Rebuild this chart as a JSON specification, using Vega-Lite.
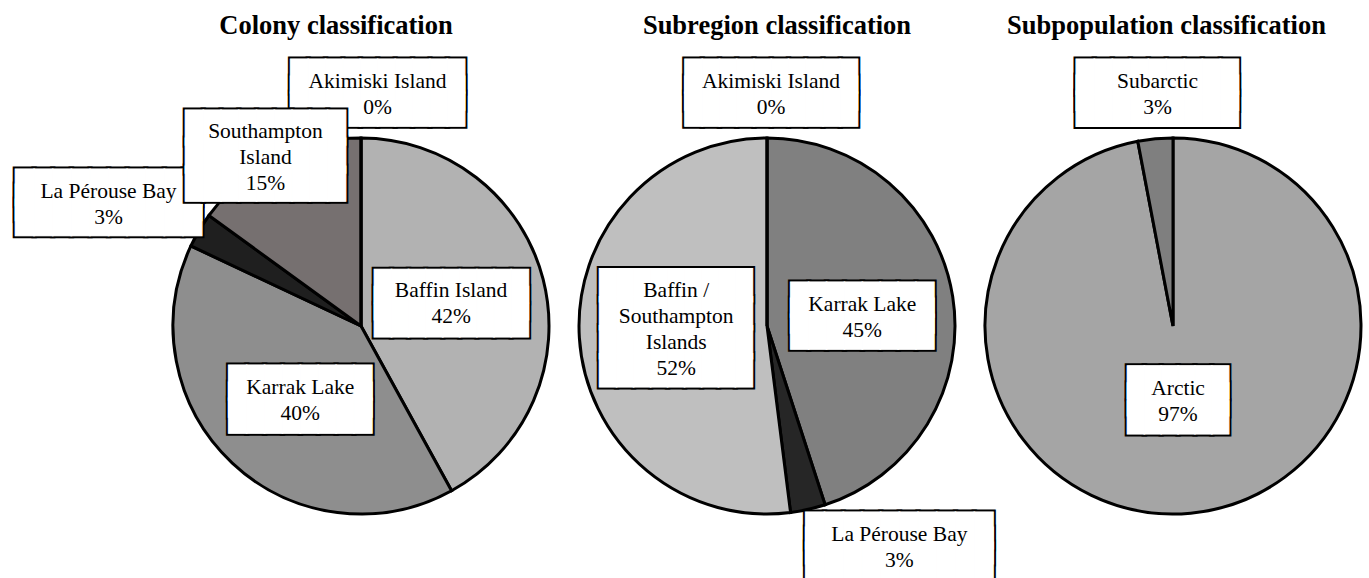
{
"$schema": "https://vega.github.io/schema/vega-lite/v6.json",
"padding": {"left": 15, "top": 12, "right": 0, "bottom": 0},
"background": "white",
"bounds": "flush",
"spacing": 0,
"data": {"values": [
 {"panel": "colony", "region": "Baffin Island", "value": 42, "idx": 1, "label": "Baffin Island\n42%"},
 {"panel": "colony", "region": "Karrak Lake", "value": 40, "idx": 2, "label": "Karrak Lake\n40%"},
 {"panel": "colony", "region": "La Pérouse Bay", "value": 3, "idx": 3, "label": "La Pérouse Bay\n3%"},
 {"panel": "colony", "region": "Southampton Island", "value": 15, "idx": 4, "label": "Southampton\nIsland\n15%"},
 {"panel": "colony", "region": "Akimiski Island", "value": 0, "idx": 5, "label": "Akimiski Island\n0%"},
 {"panel": "subregion", "region": "Karrak Lake", "value": 45, "idx": 1, "label": "Karrak Lake\n45%"},
 {"panel": "subregion", "region": "La Pérouse Bay", "value": 3, "idx": 2, "label": "La Pérouse Bay\n3%"},
 {"panel": "subregion", "region": "Baffin / Southampton Islands", "value": 52, "idx": 3, "label": "Baffin /\nSouthampton\nIslands\n52%"},
 {"panel": "subregion", "region": "Akimiski Island", "value": 0, "idx": 4, "label": "Akimiski Island\n0%"},
 {"panel": "subpopulation", "region": "Arctic", "value": 97, "idx": 1, "label": "Arctic\n97%"},
 {"panel": "subpopulation", "region": "Subarctic", "value": 3, "idx": 2, "label": "Subarctic\n3%"}
]},
"resolve": {"scale": {"color": "independent", "theta": "independent"}},
"config": {
 "view": {"stroke": null},
 "title": {"font": "Liberation Serif", "fontSize": 26.5, "fontWeight": "bold", "color": "black", "frame": "group", "anchor": "middle", "baseline": "alphabetic"}
},
"hconcat": [
{
 "title": {"text": "Colony classification", "dx": -25, "offset": -3.5},
 "width": 406, "height": 376,
 "transform": [{"filter": "datum.panel === 'colony'"}],
 "layer": [
  {"mark": {"type": "arc", "outerRadius": 188, "stroke": "black", "strokeWidth": 3},
   "encoding": {"theta": {"field": "value", "type": "quantitative", "stack": true}, "order": {"field": "idx", "type": "quantitative"},
    "color": {"field": "region", "type": "nominal", "legend": null, "scale": {"domain": ["Baffin Island", "Karrak Lake", "La Pérouse Bay", "Southampton Island", "Akimiski Island"], "range": ["#b2b2b2", "#8e8e8e", "#1f1f1f", "#767070", "#ffffff"]}}}},

  {"mark": {"type": "text", "font": "DejaVu Sans Mono", "fontSize": 28.4, "lineHeight": 17, "radius": 93, "dx": 0, "dy": -16.3, "fill": "black", "stroke": "black", "strokeWidth": 5},
   "encoding": {"theta": {"field": "value", "type": "quantitative", "stack": true}, "order": {"field": "idx", "type": "quantitative"}, "detail": {"field": "region"},
    "text": {"condition": {"test": "datum.region === 'Baffin Island'", "value": ["█████████", "█████████", "█████████"]}, "value": ""}}},
  {"mark": {"type": "text", "font": "DejaVu Sans Mono", "fontSize": 28.4, "lineHeight": 17, "radius": 93, "dx": 0, "dy": -16.3, "fill": "white", "stroke": "white", "strokeWidth": 1},
   "encoding": {"theta": {"field": "value", "type": "quantitative", "stack": true}, "order": {"field": "idx", "type": "quantitative"}, "detail": {"field": "region"},
    "text": {"condition": {"test": "datum.region === 'Baffin Island'", "value": ["█████████", "█████████", "█████████"]}, "value": ""}}},
  {"mark": {"type": "text", "font": "Liberation Serif", "fontSize": 21.5, "lineHeight": 26, "lineBreak": "\n", "radius": 93, "dx": 0, "dy": -11.5, "fill": "black"},
   "encoding": {"theta": {"field": "value", "type": "quantitative", "stack": true}, "order": {"field": "idx", "type": "quantitative"}, "detail": {"field": "region"},
    "text": {"condition": {"test": "datum.region === 'Baffin Island'", "field": "label"}, "value": ""}}},

  {"mark": {"type": "text", "font": "DejaVu Sans Mono", "fontSize": 29.7, "lineHeight": 16.2, "radius": 96, "dx": 5, "dy": -11.5, "fill": "black", "stroke": "black", "strokeWidth": 5},
   "encoding": {"theta": {"field": "value", "type": "quantitative", "stack": true}, "order": {"field": "idx", "type": "quantitative"}, "detail": {"field": "region"},
    "text": {"condition": {"test": "datum.region === 'Karrak Lake'", "value": ["████████", "████████", "████████"]}, "value": ""}}},
  {"mark": {"type": "text", "font": "DejaVu Sans Mono", "fontSize": 29.7, "lineHeight": 16.2, "radius": 96, "dx": 5, "dy": -11.5, "fill": "white", "stroke": "white", "strokeWidth": 1},
   "encoding": {"theta": {"field": "value", "type": "quantitative", "stack": true}, "order": {"field": "idx", "type": "quantitative"}, "detail": {"field": "region"},
    "text": {"condition": {"test": "datum.region === 'Karrak Lake'", "value": ["████████", "████████", "████████"]}, "value": ""}}},
  {"mark": {"type": "text", "font": "Liberation Serif", "fontSize": 21.5, "lineHeight": 26, "lineBreak": "\n", "radius": 96, "dx": 5, "dy": -7.5, "fill": "black"},
   "encoding": {"theta": {"field": "value", "type": "quantitative", "stack": true}, "order": {"field": "idx", "type": "quantitative"}, "detail": {"field": "region"},
    "text": {"condition": {"test": "datum.region === 'Karrak Lake'", "field": "label"}, "value": ""}}},

  {"mark": {"type": "text", "font": "DejaVu Sans Mono", "fontSize": 28.9, "lineHeight": 16.7, "radius": 233, "dx": 16.5, "dy": -16, "fill": "black", "stroke": "black", "strokeWidth": 5},
   "encoding": {"theta": {"field": "value", "type": "quantitative", "stack": true}, "order": {"field": "idx", "type": "quantitative"}, "detail": {"field": "region"},
    "text": {"condition": {"test": "datum.region === 'Akimiski Island'", "value": ["██████████", "██████████", "██████████"]}, "value": ""}}},
  {"mark": {"type": "text", "font": "DejaVu Sans Mono", "fontSize": 28.9, "lineHeight": 16.7, "radius": 233, "dx": 16.5, "dy": -16, "fill": "white", "stroke": "white", "strokeWidth": 1},
   "encoding": {"theta": {"field": "value", "type": "quantitative", "stack": true}, "order": {"field": "idx", "type": "quantitative"}, "detail": {"field": "region"},
    "text": {"condition": {"test": "datum.region === 'Akimiski Island'", "value": ["██████████", "██████████", "██████████"]}, "value": ""}}},
  {"mark": {"type": "text", "font": "Liberation Serif", "fontSize": 21.5, "lineHeight": 26, "lineBreak": "\n", "radius": 233, "dx": 16.5, "dy": -11.5, "fill": "black"},
   "encoding": {"theta": {"field": "value", "type": "quantitative", "stack": true}, "order": {"field": "idx", "type": "quantitative"}, "detail": {"field": "region"},
    "text": {"condition": {"test": "datum.region === 'Akimiski Island'", "field": "label"}, "value": ""}}},

  {"mark": {"type": "text", "font": "DejaVu Sans Mono", "fontSize": 30.9, "lineHeight": 15, "radius": 280, "dx": -11.5, "dy": 5.7, "fill": "black", "stroke": "black", "strokeWidth": 5},
   "encoding": {"theta": {"field": "value", "type": "quantitative", "stack": true}, "order": {"field": "idx", "type": "quantitative"}, "detail": {"field": "region"},
    "text": {"condition": {"test": "datum.region === 'La Pérouse Bay'", "value": ["██████████", "██████████", "██████████"]}, "value": ""}}},
  {"mark": {"type": "text", "font": "DejaVu Sans Mono", "fontSize": 30.9, "lineHeight": 15, "radius": 280, "dx": -11.5, "dy": 5.7, "fill": "white", "stroke": "white", "strokeWidth": 1},
   "encoding": {"theta": {"field": "value", "type": "quantitative", "stack": true}, "order": {"field": "idx", "type": "quantitative"}, "detail": {"field": "region"},
    "text": {"condition": {"test": "datum.region === 'La Pérouse Bay'", "value": ["██████████", "██████████", "██████████"]}, "value": ""}}},
  {"mark": {"type": "text", "font": "Liberation Serif", "fontSize": 21.5, "lineHeight": 26, "lineBreak": "\n", "radius": 280, "dx": -11.5, "dy": 8.5, "fill": "black"},
   "encoding": {"theta": {"field": "value", "type": "quantitative", "stack": true}, "order": {"field": "idx", "type": "quantitative"}, "detail": {"field": "region"},
    "text": {"condition": {"test": "datum.region === 'La Pérouse Bay'", "field": "label"}, "value": ""}}},

  {"mark": {"type": "text", "font": "DejaVu Sans Mono", "fontSize": 29.5, "lineHeight": 28.3, "radius": 195, "dx": -7, "dy": -23.6, "fill": "black", "stroke": "black", "strokeWidth": 5},
   "encoding": {"theta": {"field": "value", "type": "quantitative", "stack": true}, "order": {"field": "idx", "type": "quantitative"}, "detail": {"field": "region"},
    "text": {"condition": {"test": "datum.region === 'Southampton Island'", "value": ["█████████", "█████████", "█████████"]}, "value": ""}}},
  {"mark": {"type": "text", "font": "DejaVu Sans Mono", "fontSize": 29.5, "lineHeight": 28.3, "radius": 195, "dx": -7, "dy": -23.6, "fill": "white", "stroke": "white", "strokeWidth": 1},
   "encoding": {"theta": {"field": "value", "type": "quantitative", "stack": true}, "order": {"field": "idx", "type": "quantitative"}, "detail": {"field": "region"},
    "text": {"condition": {"test": "datum.region === 'Southampton Island'", "value": ["█████████", "█████████", "█████████"]}, "value": ""}}},
  {"mark": {"type": "text", "font": "Liberation Serif", "fontSize": 21.5, "lineHeight": 26, "lineBreak": "\n", "radius": 195, "dx": -7, "dy": -20.5, "fill": "black"},
   "encoding": {"theta": {"field": "value", "type": "quantitative", "stack": true}, "order": {"field": "idx", "type": "quantitative"}, "detail": {"field": "region"},
    "text": {"condition": {"test": "datum.region === 'Southampton Island'", "field": "label"}, "value": ""}}}
 ]
},
{
 "title": {"text": "Subregion classification", "dx": 10, "offset": 2.1},
 "width": 406, "height": 376,
 "transform": [{"filter": "datum.panel === 'subregion'"}],
 "layer": [
  {"mark": {"type": "arc", "outerRadius": 188, "stroke": "black", "strokeWidth": 3},
   "encoding": {"theta": {"field": "value", "type": "quantitative", "stack": true}, "order": {"field": "idx", "type": "quantitative"},
    "color": {"field": "region", "type": "nominal", "legend": null, "scale": {"domain": ["Karrak Lake", "La Pérouse Bay", "Baffin / Southampton Islands", "Akimiski Island"], "range": ["#808080", "#262626", "#bfbfbf", "#ffffff"]}}}},

  {"mark": {"type": "text", "font": "DejaVu Sans Mono", "fontSize": 29.7, "lineHeight": 16.2, "radius": 95.5, "dx": 1, "dy": -10.5, "fill": "black", "stroke": "black", "strokeWidth": 5},
   "encoding": {"theta": {"field": "value", "type": "quantitative", "stack": true}, "order": {"field": "idx", "type": "quantitative"}, "detail": {"field": "region"},
    "text": {"condition": {"test": "datum.region === 'Karrak Lake'", "value": ["████████", "████████", "████████"]}, "value": ""}}},
  {"mark": {"type": "text", "font": "DejaVu Sans Mono", "fontSize": 29.7, "lineHeight": 16.2, "radius": 95.5, "dx": 1, "dy": -10.5, "fill": "white", "stroke": "white", "strokeWidth": 1},
   "encoding": {"theta": {"field": "value", "type": "quantitative", "stack": true}, "order": {"field": "idx", "type": "quantitative"}, "detail": {"field": "region"},
    "text": {"condition": {"test": "datum.region === 'Karrak Lake'", "value": ["████████", "████████", "████████"]}, "value": ""}}},
  {"mark": {"type": "text", "font": "Liberation Serif", "fontSize": 21.5, "lineHeight": 26, "lineBreak": "\n", "radius": 95.5, "dx": 1, "dy": -6.5, "fill": "black"},
   "encoding": {"theta": {"field": "value", "type": "quantitative", "stack": true}, "order": {"field": "idx", "type": "quantitative"}, "detail": {"field": "region"},
    "text": {"condition": {"test": "datum.region === 'Karrak Lake'", "field": "label"}, "value": ""}}},

  {"mark": {"type": "text", "font": "DejaVu Sans Mono", "fontSize": 28.2, "lineHeight": 28.4, "radius": 91, "dx": 0, "dy": -44.9, "fill": "black", "stroke": "black", "strokeWidth": 5},
   "encoding": {"theta": {"field": "value", "type": "quantitative", "stack": true}, "order": {"field": "idx", "type": "quantitative"}, "detail": {"field": "region"},
    "text": {"condition": {"test": "datum.region === 'Baffin / Southampton Islands'", "value": ["█████████", "█████████", "█████████", "█████████"]}, "value": ""}}},
  {"mark": {"type": "text", "font": "DejaVu Sans Mono", "fontSize": 28.2, "lineHeight": 28.4, "radius": 91, "dx": 0, "dy": -44.9, "fill": "white", "stroke": "white", "strokeWidth": 1},
   "encoding": {"theta": {"field": "value", "type": "quantitative", "stack": true}, "order": {"field": "idx", "type": "quantitative"}, "detail": {"field": "region"},
    "text": {"condition": {"test": "datum.region === 'Baffin / Southampton Islands'", "value": ["█████████", "█████████", "█████████", "█████████"]}, "value": ""}}},
  {"mark": {"type": "text", "font": "Liberation Serif", "fontSize": 21.5, "lineHeight": 26, "lineBreak": "\n", "radius": 91, "dx": 0, "dy": -40.5, "fill": "black"},
   "encoding": {"theta": {"field": "value", "type": "quantitative", "stack": true}, "order": {"field": "idx", "type": "quantitative"}, "detail": {"field": "region"},
    "text": {"condition": {"test": "datum.region === 'Baffin / Southampton Islands'", "field": "label"}, "value": ""}}},

  {"mark": {"type": "text", "font": "DejaVu Sans Mono", "fontSize": 28.7, "lineHeight": 16.8, "radius": 233, "dx": 4, "dy": -16.1, "fill": "black", "stroke": "black", "strokeWidth": 5},
   "encoding": {"theta": {"field": "value", "type": "quantitative", "stack": true}, "order": {"field": "idx", "type": "quantitative"}, "detail": {"field": "region"},
    "text": {"condition": {"test": "datum.region === 'Akimiski Island'", "value": ["██████████", "██████████", "██████████"]}, "value": ""}}},
  {"mark": {"type": "text", "font": "DejaVu Sans Mono", "fontSize": 28.7, "lineHeight": 16.8, "radius": 233, "dx": 4, "dy": -16.1, "fill": "white", "stroke": "white", "strokeWidth": 1},
   "encoding": {"theta": {"field": "value", "type": "quantitative", "stack": true}, "order": {"field": "idx", "type": "quantitative"}, "detail": {"field": "region"},
    "text": {"condition": {"test": "datum.region === 'Akimiski Island'", "value": ["██████████", "██████████", "██████████"]}, "value": ""}}},
  {"mark": {"type": "text", "font": "Liberation Serif", "fontSize": 21.5, "lineHeight": 26, "lineBreak": "\n", "radius": 233, "dx": 4, "dy": -11.5, "fill": "black"},
   "encoding": {"theta": {"field": "value", "type": "quantitative", "stack": true}, "order": {"field": "idx", "type": "quantitative"}, "detail": {"field": "region"},
    "text": {"condition": {"test": "datum.region === 'Akimiski Island'", "field": "label"}, "value": ""}}},

  {"mark": {"type": "text", "font": "DejaVu Sans Mono", "fontSize": 31.1, "lineHeight": 15.4, "radius": 240, "dx": 80, "dy": -28.7, "fill": "black", "stroke": "black", "strokeWidth": 5},
   "encoding": {"theta": {"field": "value", "type": "quantitative", "stack": true}, "order": {"field": "idx", "type": "quantitative"}, "detail": {"field": "region"},
    "text": {"condition": {"test": "datum.region === 'La Pérouse Bay'", "value": ["██████████", "██████████", "██████████"]}, "value": ""}}},
  {"mark": {"type": "text", "font": "DejaVu Sans Mono", "fontSize": 31.1, "lineHeight": 15.4, "radius": 240, "dx": 80, "dy": -28.7, "fill": "white", "stroke": "white", "strokeWidth": 1},
   "encoding": {"theta": {"field": "value", "type": "quantitative", "stack": true}, "order": {"field": "idx", "type": "quantitative"}, "detail": {"field": "region"},
    "text": {"condition": {"test": "datum.region === 'La Pérouse Bay'", "value": ["██████████", "██████████", "██████████"]}, "value": ""}}},
  {"mark": {"type": "text", "font": "Liberation Serif", "fontSize": 21.5, "lineHeight": 26, "lineBreak": "\n", "radius": 240, "dx": 80, "dy": -25.5, "fill": "black"},
   "encoding": {"theta": {"field": "value", "type": "quantitative", "stack": true}, "order": {"field": "idx", "type": "quantitative"}, "detail": {"field": "region"},
    "text": {"condition": {"test": "datum.region === 'La Pérouse Bay'", "field": "label"}, "value": ""}}}
 ]
},
{
 "title": {"text": "Subpopulation classification", "dx": -6.5, "offset": 23.9},
 "width": 406, "height": 376,
 "transform": [{"filter": "datum.panel === 'subpopulation'"}],
 "layer": [
  {"mark": {"type": "arc", "outerRadius": 188, "stroke": "black", "strokeWidth": 3},
   "encoding": {"theta": {"field": "value", "type": "quantitative", "stack": true}, "order": {"field": "idx", "type": "quantitative"},
    "color": {"field": "region", "type": "nominal", "legend": null, "scale": {"domain": ["Arctic", "Subarctic"], "range": ["#a5a5a5", "#7f7f7f"]}}}},

  {"mark": {"type": "text", "font": "DejaVu Sans Mono", "fontSize": 28, "lineHeight": 17.7, "radius": 75, "dx": -2, "dy": -17, "fill": "black", "stroke": "black", "strokeWidth": 5},
   "encoding": {"theta": {"field": "value", "type": "quantitative", "stack": true}, "order": {"field": "idx", "type": "quantitative"}, "detail": {"field": "region"},
    "text": {"condition": {"test": "datum.region === 'Arctic'", "value": ["██████", "██████", "██████"]}, "value": ""}}},
  {"mark": {"type": "text", "font": "DejaVu Sans Mono", "fontSize": 28, "lineHeight": 17.7, "radius": 75, "dx": -2, "dy": -17, "fill": "white", "stroke": "white", "strokeWidth": 1},
   "encoding": {"theta": {"field": "value", "type": "quantitative", "stack": true}, "order": {"field": "idx", "type": "quantitative"}, "detail": {"field": "region"},
    "text": {"condition": {"test": "datum.region === 'Arctic'", "value": ["██████", "██████", "██████"]}, "value": ""}}},
  {"mark": {"type": "text", "font": "Liberation Serif", "fontSize": 21.5, "lineHeight": 26, "lineBreak": "\n", "radius": 75, "dx": -2, "dy": -11.5, "fill": "black"},
   "encoding": {"theta": {"field": "value", "type": "quantitative", "stack": true}, "order": {"field": "idx", "type": "quantitative"}, "detail": {"field": "region"},
    "text": {"condition": {"test": "datum.region === 'Arctic'", "field": "label"}, "value": ""}}},

  {"mark": {"type": "text", "font": "DejaVu Sans Mono", "fontSize": 29.9, "lineHeight": 16.1, "radius": 233.5, "dx": 6.5, "dy": -15.4, "fill": "black", "stroke": "black", "strokeWidth": 5},
   "encoding": {"theta": {"field": "value", "type": "quantitative", "stack": true}, "order": {"field": "idx", "type": "quantitative"}, "detail": {"field": "region"},
    "text": {"condition": {"test": "datum.region === 'Subarctic'", "value": ["█████████", "█████████", "█████████"]}, "value": ""}}},
  {"mark": {"type": "text", "font": "DejaVu Sans Mono", "fontSize": 29.9, "lineHeight": 16.1, "radius": 233.5, "dx": 6.5, "dy": -15.4, "fill": "white", "stroke": "white", "strokeWidth": 1},
   "encoding": {"theta": {"field": "value", "type": "quantitative", "stack": true}, "order": {"field": "idx", "type": "quantitative"}, "detail": {"field": "region"},
    "text": {"condition": {"test": "datum.region === 'Subarctic'", "value": ["█████████", "█████████", "█████████"]}, "value": ""}}},
  {"mark": {"type": "text", "font": "Liberation Serif", "fontSize": 21.5, "lineHeight": 26, "lineBreak": "\n", "radius": 233.5, "dx": 6.5, "dy": -11.5, "fill": "black"},
   "encoding": {"theta": {"field": "value", "type": "quantitative", "stack": true}, "order": {"field": "idx", "type": "quantitative"}, "detail": {"field": "region"},
    "text": {"condition": {"test": "datum.region === 'Subarctic'", "field": "label"}, "value": ""}}}
 ]
}
]
}
